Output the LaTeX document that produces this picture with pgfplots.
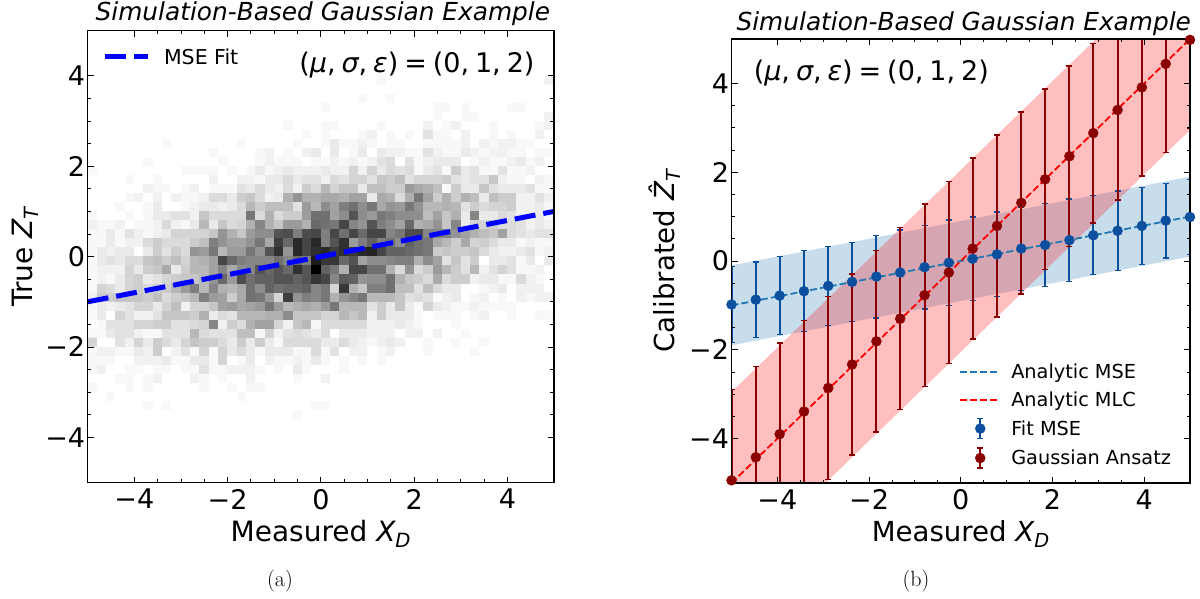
\documentclass[border=0pt]{standalone}
\usepackage{fontspec}
\usepackage{pgfplots}
\usepackage{pgfplotstable}
\pgfplotsset{compat=1.18}
\newfontfamily\djv{DejaVu Sans}
\newcommand{\px}[1]{\fontsize{#1}{#1}\djv}
\newcommand{\params}{({\itshape μ},\hspace{.22em}{\itshape σ},\hspace{.22em}{\itshape ε})\hspace{.22em}=\hspace{.22em}(0,\hspace{.22em}1,\hspace{.22em}2)}
\definecolor{bandblue}{RGB}{31,119,180}
\definecolor{fitblue}{RGB}{11,79,158}
\definecolor{gausred}{RGB}{139,0,0}

% 2D histogram counts, top row first, one \hrow per bin row
\def\zz{0,0,0,0,0,0,0,0,0,0,0,0,0,0,0,0,0,0,0,0,0,0,0,0,0}
\def\heatcells{}
\newcommand{\hrow}[2]{%
  \edef\rowlist{#2}%
  \foreach \v [count=\c from 0] in \rowlist {%
    \pgfmathsetmacro\xc{-4.9+0.2*\c}%
    \xdef\heatcells{\heatcells (\xc,#1) [\v]}%
  }}
\hrow{3.9}{\zz,0,0,0,0,0,0,1,0,0,0,0,0,0,0,0,0,0,0,0,0,0,0,0,0,2}
\hrow{3.7}{\zz,\zz}
\hrow{3.5}{\zz,0,0,0,0,1,0,0,1,0,0,0,0,0,0,0,0,0,0,0,0,0,0,0,0,0}
\hrow{3.3}{\zz,1,0,0,0,0,0,0,0,0,0,0,0,1,1,0,1,0,0,0,0,1,1,0,0,0}
\hrow{3.1}{\zz,0,0,0,0,0,0,0,0,0,0,0,0,1,0,0,1,1,0,0,0,0,0,0,0,2}
\hrow{2.9}{0,0,0,0,0,0,0,0,0,0,0,0,0,0,0,0,0,0,0,0,0,1,0,0,0,1,1,0,0,0,0,1,0,0,0,0,2,0,1,2,0,0,0,1,0,0,0,0,1,2}
\hrow{2.7}{0,0,0,0,0,0,0,0,0,0,0,0,0,0,0,0,0,0,0,0,0,0,0,1,0,1,0,0,0,1,2,0,1,0,1,0,4,1,1,0,2,0,0,1,0,1,0,0,2,0}
\hrow{2.5}{0,0,0,0,0,0,0,0,1,0,0,0,0,0,0,0,1,0,0,0,0,0,1,0,0,1,3,1,1,2,1,0,1,1,0,0,1,1,1,1,2,0,2,1,2,2,1,1,0,0}
\hrow{2.3}{0,0,0,0,0,0,0,0,0,0,0,0,0,1,0,0,0,0,1,2,0,1,0,2,3,0,3,0,1,3,0,3,2,2,1,1,4,2,1,1,3,2,1,2,2,1,1,0,1,1}
\hrow{2.1}{0,0,0,0,0,0,1,0,0,0,0,0,0,0,1,0,0,0,1,2,1,1,1,0,1,1,2,1,2,1,2,4,5,0,4,1,2,3,3,3,0,1,2,1,1,2,3,1,2,0}
\hrow{1.9}{1,0,0,0,0,0,0,0,0,0,1,1,1,1,0,1,0,1,3,1,2,3,2,2,2,3,2,2,6,2,6,3,5,4,5,1,3,4,1,7,3,4,1,1,4,1,1,2,0,0}
\hrow{1.7}{0,0,0,0,1,0,0,1,0,0,0,0,0,2,0,0,2,2,1,3,3,5,3,4,4,2,5,4,6,6,4,8,7,9,4,6,6,6,7,4,3,4,4,8,2,1,1,0,2,1}
\hrow{1.5}{0,0,0,0,0,0,2,1,1,0,1,2,0,1,1,1,4,3,5,3,2,5,2,7,5,10,6,8,8,3,9,9,7,7,14,12,11,9,1,7,3,3,8,4,3,3,3,4,1,1}
\hrow{1.3}{0,0,0,0,1,2,0,2,0,2,1,1,2,5,5,3,7,8,5,2,3,11,15,11,11,12,12,11,13,13,3,12,11,5,11,19,13,7,11,7,11,9,3,9,7,7,2,2,4,2}
\hrow{1.1}{0,0,0,1,0,0,1,3,0,0,1,2,3,3,2,3,5,10,7,9,9,9,4,14,10,16,13,18,20,16,19,12,15,14,19,15,10,10,11,10,4,7,5,6,6,7,2,2,3,1}
\hrow{0.9}{1,0,0,0,1,0,1,3,3,4,4,2,8,5,5,5,5,19,5,11,5,7,7,14,20,20,13,16,24,16,14,19,18,16,16,16,9,13,8,11,3,17,3,3,5,4,2,2,3,1}
\hrow{0.7}{2,1,1,2,0,1,1,2,5,2,1,3,10,3,8,5,6,11,17,11,8,14,14,11,21,20,19,26,17,15,24,18,16,13,21,11,12,15,8,17,3,6,6,7,5,5,4,2,3,2}
\hrow{0.5}{1,1,3,1,4,2,1,2,3,6,6,6,6,8,15,11,8,14,16,16,24,25,18,25,26,18,26,20,26,21,26,26,17,19,25,25,17,17,18,15,13,11,9,8,13,5,4,3,4,4}
\hrow{0.3}{1,1,3,1,2,2,5,7,5,5,5,7,9,18,15,13,13,15,19,12,27,21,30,26,30,18,24,29,14,18,22,18,20,16,22,20,19,12,10,7,12,6,7,5,3,3,1,2,1,1}
\hrow{0.1}{1,3,2,3,3,0,3,7,4,7,5,15,14,19,10,14,14,19,15,24,29,15,30,26,29,30,27,29,28,30,31,26,22,22,21,20,19,7,8,7,7,8,5,3,2,2,3,4,1,2}
\hrow{-0.1}{1,3,4,3,5,5,8,9,7,9,6,10,11,13,26,21,18,17,17,17,20,17,21,18,32,28,28,21,24,13,16,16,17,18,18,11,16,13,4,8,4,7,0,3,3,4,1,3,0,3}
\hrow{-0.3}{1,2,2,2,6,3,7,8,12,3,7,10,10,13,17,12,16,17,24,21,24,21,29,24,36,22,19,11,26,26,20,20,11,5,15,5,7,14,10,7,4,10,2,4,6,4,1,1,2,0}
\hrow{-0.5}{1,2,1,3,6,7,3,4,6,7,8,8,10,15,21,14,25,20,22,22,24,24,22,24,28,26,17,23,22,15,16,16,20,11,8,7,5,12,5,7,7,2,3,3,1,1,5,2,1,0}
\hrow{-0.7}{1,6,5,3,6,7,5,7,7,10,14,18,10,17,11,10,12,20,16,22,20,21,21,22,17,19,6,28,11,8,18,18,20,9,9,4,9,5,3,3,0,0,1,2,3,0,2,2,2,0}
\hrow{-0.9}{2,7,7,8,8,8,7,9,5,7,8,10,18,14,13,7,12,20,19,14,6,27,15,18,17,19,11,15,17,19,10,10,10,8,4,5,4,1,2,3,0,1,2,0,1,0,2,1,2,2}
\hrow{-1.1}{1,3,2,3,4,6,6,3,6,9,2,6,6,8,13,14,12,13,14,19,14,10,11,12,11,14,19,10,10,10,4,7,3,8,3,1,6,3,2,1,1,2,1,1,1,1,0,0,0,0}
\hrow{-1.3}{1,3,0,6,4,2,2,4,8,8,8,7,11,3,5,4,10,10,10,11,11,16,8,8,8,6,6,10,8,10,2,7,3,3,3,1,0,1,1,1,0,1,2,0,0,1,0,0,1,1}
\hrow{-1.5}{0,1,4,4,4,6,6,7,7,4,4,5,6,17,2,7,5,11,13,13,6,2,8,10,1,5,5,5,5,5,2,2,2,3,2,1,0,0,0,1,0,0,0,0,0,0,0,0,0,0}
\hrow{-1.7}{1,1,3,4,4,2,1,1,4,4,4,10,5,4,4,4,9,9,1,6,2,4,5,4,3,5,0,3,3,3,2,2,2,0,2,2,0,2,0,0,1,0,0,0,0,0,0,0,0,0}
\hrow{-1.9}{6,0,0,4,2,6,3,7,5,3,6,8,7,7,5,3,7,3,7,3,1,5,5,5,5,3,3,5,3,2,1,2,3,2,0,0,1,0,0,1,0,0,1,0,0,0,0,0,0,0}
\hrow{-2.1}{1,2,2,1,1,3,2,7,0,2,4,1,6,1,6,3,5,3,1,3,3,3,1,1,5,1,4,0,2,2,0,1,2,0,0,0,1,0,0,0,0,1,0,0,0,0,0,0,0,0}
\hrow{-2.3}{1,1,1,0,0,2,2,2,3,1,1,3,3,1,6,0,1,3,0,2,1,1,2,1,3,1,0,1,0,1,0,1,0,0,0,0,0,0,0,0,0,0,0,0,0,0,0,0,0,0}
\hrow{-2.5}{1,2,0,0,1,1,0,1,1,0,1,1,4,1,1,2,2,2,1,0,1,0,3,1,0,0,0,1,0,0,0,0,0,0,0,0,0,0,0,0,0,0,0,0,0,0,0,0,0,0}
\hrow{-2.7}{0,0,0,1,1,0,1,2,0,0,0,2,1,0,1,0,0,2,0,0,0,0,1,0,0,2,0,0,0,0,0,0,0,0,0,0,0,0,0,0,0,0,0,0,0,0,0,0,0,0}
\hrow{-2.9}{1,0,0,0,1,0,1,0,0,0,0,0,1,0,0,1,0,1,1,0,0,0,0,0,0,\zz}
\hrow{-3.1}{0,0,1,0,0,0,0,0,0,0,0,0,0,0,0,0,1,0,0,0,0,0,0,0,0,\zz}
\hrow{-3.3}{0,0,0,0,0,0,1,0,1,0,0,0,0,0,0,0,0,0,0,0,0,0,0,0,1,1,0,0,0,0,0,0,0,0,0,0,0,0,0,0,0,0,0,0,0,0,0,0,0,0}
\hrow{-3.5}{0,0,0,0,0,0,0,0,0,0,0,0,0,0,0,0,0,0,0,0,0,0,1,0,0,\zz}

\pgfplotstableread{
x y e
-5.00 -0.98 0.86
-4.47 -0.87 0.85
-3.95 -0.78 0.88
-3.42 -0.68 0.91
-2.89 -0.56 0.89
-2.37 -0.47 0.89
-1.84 -0.35 0.93
-1.32 -0.26 0.96
-0.79 -0.14 0.94
-0.26 -0.04 0.96
0.26 0.05 0.94
0.79 0.15 0.95
1.32 0.28 0.94
1.84 0.36 0.94
2.37 0.47 0.93
2.89 0.58 0.89
3.42 0.68 0.90
3.95 0.79 0.87
4.47 0.91 0.84
5.00 0.99 0.85
}\fitmse
\pgfplotstableread{
x y e
-5.00 -4.94 2.05
-4.47 -4.42 2.05
-3.95 -3.90 2.05
-3.42 -3.39 2.05
-2.89 -2.86 2.06
-2.37 -2.33 2.04
-1.84 -1.81 2.04
-1.32 -1.30 2.05
-0.79 -0.77 2.05
-0.26 -0.26 2.05
0.26 0.28 2.04
0.79 0.79 2.05
1.32 1.31 2.05
1.84 1.84 2.03
2.37 2.36 2.03
2.89 2.88 2.02
3.42 3.40 2.03
3.95 3.91 2.00
4.47 4.44 2.00
5.00 4.98 2.00
}\gausansatz

\pgfplotsset{
  panel/.style={
    scale only axis, anchor=south west,
    xmin=-5, xmax=5, ymin=-5, ymax=5,
    xtick={-4,-2,0,2,4}, ytick={-4,-2,0,2,4},
    xticklabels={−4,−2,0,2,4}, yticklabels={−4,−2,0,2,4},
    minor x tick num=3, minor y tick num=3,
    tick align=inside, major tick length=6pt, minor tick length=3.5pt,
    tick style={black, line width=0.9pt},
    axis line style={line width=1.2pt},
    axis on top,
    ticklabel style={font=\px{27}},
    xticklabel style={yshift=-3pt},
    yticklabel style={xshift=1pt},
    xlabel style={yshift=-4pt},
    title style={font=\px{24.8}\itshape},
    legend cell align=left,
    legend style={draw=none, fill=none},
  },
  heat/.style={matrix plot*, mesh/cols=50, point meta=explicit,
    colormap={greys}{gray(0)=(1); gray(36)=(0)},
    point meta min=0, point meta max=36},
  errs/.style={only marks, mark=*, mark size=5pt, color=#1, mark options={fill=#1, draw=#1},
    error bars/.cd, y dir=both, y explicit,
    error bar style={line width=2pt, color=#1},
    error mark options={rotate=90, mark size=3pt, line width=1.4pt, color=#1}},
  errhandle/.style={legend image code/.code={
    \path[draw=none] (0pt,0pt) -- (49pt,0pt);
    \draw[#1, line width=2pt] (20pt,-10pt) -- (20pt,10pt);
    \draw[#1, line width=1.4pt] (17pt,-10pt) -- (23pt,-10pt) (17pt,10pt) -- (23pt,10pt);
    \fill[#1] (20pt,0pt) circle (5pt);}},
  linehandle/.style 2 args={legend image code/.code={
    \path[draw=none] (0pt,0pt) -- (#2pt,0pt);
    \draw[##1] (0pt,0pt) -- (#1pt,0pt);}},
}

\begin{document}
\begin{tikzpicture}[x=1pt,y=1pt]
\path[use as bounding box] (0,0) rectangle (1200,598);

\begin{axis}[panel, at={(87.7pt,115.5pt)}, width=466.3pt, height=451.8pt,
    title={Simulation-Based Gaussian Example}, title style={yshift=-4pt, xshift=2pt},
    label style={font=\px{28}},
    xlabel={Measured {\itshape X}\textsubscript{\itshape D}},
    ylabel={True {\itshape Z}\textsubscript{\itshape T}},
    legend style={at={(rel axis cs:0.025,0.97)}, anchor=north west, font=\px{20.5}},
    linehandle={43}{57}]
  \edef\drawheat{\noexpand\addplot[heat, forget plot] coordinates {\heatcells};}
  \drawheat
  \addplot[blue, line width=5pt, dash pattern=on 21pt off 8pt] coordinates {(-5,-1) (5,1)};
  \addlegendentry{MSE Fit}
  \node[font=\px{27}] at (rel axis cs:0.706,0.924) {\params};
\end{axis}

\begin{axis}[panel, at={(731.5pt,115pt)}, width=458.5pt, height=444pt,
    title={Simulation-Based Gaussian Example}, title style={yshift=-6pt, xshift=3pt},
    label style={font=\px{27.6}},
    xlabel={Measured {\itshape X}\textsubscript{\itshape D}},
    ylabel={Calibrated {\itshape Ẑ}\textsubscript{\itshape T}},
    ylabel style={yshift=2pt},
    legend style={at={(rel axis cs:0.49,0.277)}, anchor=north west, row sep=7.5pt, font=\px{19.3}}]
  \addplot[forget plot, fill=bandblue, fill opacity=0.25, draw=none]
    coordinates {(-5,-0.1) (5,1.9) (5,0.1) (-5,-1.9)};
  \addplot[forget plot, fill=red, fill opacity=0.25, draw=none]
    coordinates {(-5,-2.95) (5,7.05) (5,2.95) (-5,-7.05)};
  \addlegendimage{linehandle={40}{49}, bandblue, line width=1.8pt, dash pattern=on 7pt off 3pt}
  \addlegendentry{Analytic MSE}
  \addlegendimage{linehandle={40}{49}, red, line width=1.8pt, dash pattern=on 7pt off 3pt}
  \addlegendentry{Analytic MLC}
  \addlegendimage{errhandle=fitblue}
  \addlegendentry{Fit MSE}
  \addlegendimage{errhandle=gausred}
  \addlegendentry{Gaussian Ansatz}
  \addplot[forget plot, bandblue, line width=1.8pt, dash pattern=on 7pt off 3pt] coordinates {(-5,-1) (5,1)};
  \addplot[forget plot, red, line width=1.8pt, dash pattern=on 7pt off 3pt] coordinates {(-5,-5) (5,5)};
  \addplot[forget plot, errs=fitblue] table[x=x, y=y, y error=e] {\fitmse};
  \addplot[forget plot, errs=gausred] table[x=x, y=y, y error=e] {\gausansatz};
  \node[font=\px{27}] at (rel axis cs:0.305,0.923) {\params};
\end{axis}

\node[font=\fontsize{22}{22}\selectfont] at (280,17) {(a)};
\node[font=\fontsize{22}{22}\selectfont] at (916,17) {(b)};
\end{tikzpicture}
\end{document}
